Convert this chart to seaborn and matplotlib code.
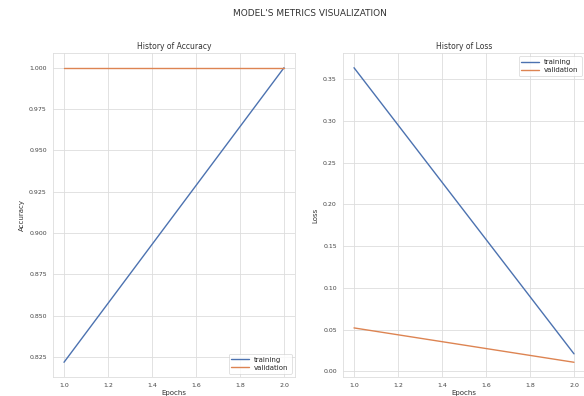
import matplotlib
matplotlib.use("Agg")
import matplotlib.pyplot as plt
import seaborn as sns
import pandas as pd

epochs = [1, 2]
train_acc = [0.8217, 1.0]
val_acc = [1.0, 1.0]
train_loss = [0.364, 0.0209]
val_loss = [0.052, 0.0108]

sns.set_theme(style="whitegrid")
plt.rcParams['font.family'] = ['DejaVu Sans']

W, H = 584, 396
fig = plt.figure(figsize=(W / 100, H / 100), dpi=100)

def px_axes(left, right, top, bottom):
    return fig.add_axes([left / W, (H - bottom) / H, (right - left) / W, (bottom - top) / H])

ax1 = px_axes(53, 295, 53, 377)
ax2 = px_axes(343, 585, 53, 377)

lw = 1.0
sns.lineplot(x=epochs, y=train_acc, ax=ax1, label="training", linewidth=lw)
sns.lineplot(x=epochs, y=val_acc, ax=ax1, label="validation", linewidth=lw)
sns.lineplot(x=epochs, y=train_loss, ax=ax2, label="training", linewidth=lw)
sns.lineplot(x=epochs, y=val_loss, ax=ax2, label="validation", linewidth=lw)

for ax, title, ylab, loc in [(ax1, "History of Accuracy", "Accuracy", "lower right"),
                             (ax2, "History of Loss", "Loss", "upper right")]:
    ax.set_title(title, fontsize=5.5, color="#333333", pad=3)
    ax.set_ylabel(ylab, fontsize=5, color="#333333", labelpad=3)
    ax.set_xlabel("Epochs", fontsize=5, color="#333333", labelpad=2)
    ax.tick_params(axis="y", labelsize=4.5, colors="#444444", pad=4.5, length=0)
    ax.tick_params(axis="x", labelsize=4.5, colors="#444444", pad=4, length=0)
    ax.grid(True, color="#dddddd", linewidth=0.6)
    for s in ax.spines.values():
        s.set_color("#dddddd")
        s.set_linewidth(0.6)
    leg = ax.legend(loc=loc, fontsize=5, frameon=True, handlelength=2.5, borderpad=0.4,
                    labelspacing=0.3)
    leg.get_frame().set_linewidth(0.5)

ax1.set_yticks([0.825, 0.85, 0.875, 0.9, 0.925, 0.95, 0.975, 1.0])
ax1.set_yticklabels(["0.825", "0.850", "0.875", "0.900", "0.925", "0.950", "0.975", "1.000"])

fig.text(310 / W, 1 - 14 / H, "MODEL'S METRICS VISUALIZATION", ha="center", va="center",
         fontsize=6.5, color="#333333")

fig.savefig("out.png", dpi=100)
